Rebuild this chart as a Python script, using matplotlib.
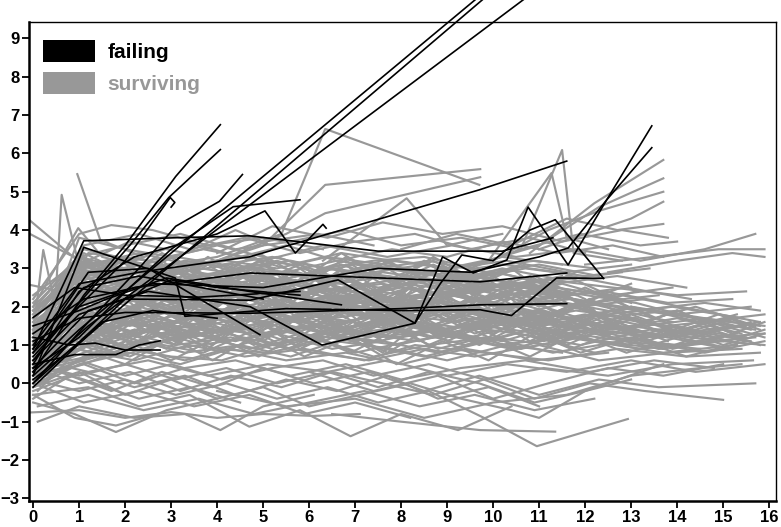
import matplotlib
matplotlib.use("Agg")
from matplotlib import pyplot as plt
from matplotlib.patches import Patch

plt.rcParams['font.family'] = ['Liberation Sans', 'DejaVu Sans']
plt.rcParams['font.weight'] = 'bold'

GREY = '#989898'

# surviving subjects, main band
grey_core = [
    ([0, 1.0, 2.1, 3.2, 4.3, 5.5, 6.8, 8.0, 9.4, 10.9, 12.5], [-0.1, 0.5, 0.8, 0.5, 0.9, 0.6, 0.8, 0.5, 0.9, 0.6, 0.8]),
    ([0.1, 1.1, 2.0, 3.0, 4.1, 5.2, 6.1, 7.3, 8.5, 9.6, 11.0, 12.3, 13.8, 15.4], [0.2, 0.6, 0.9, 0.7, 0.6, 1.0, 0.8, 0.6, 0.9, 0.7, 1.0, 0.6, 0.8, 0.9]),
    ([0, 0.9, 2.2, 3.4, 4.6, 5.9, 7.2, 8.3, 9.8, 11.2, 12.7, 14.2, 15.8], [0.0, 0.9, 0.6, 1.0, 0.7, 0.9, 0.6, 1.0, 0.8, 0.6, 0.9, 0.7, 0.8]),
    ([0, 1.2, 2.3, 3.3, 4.5, 5.6, 6.6, 7.8, 9.0, 10.3, 11.5], [0.4, 0.7, 1.1, 0.8, 1.0, 0.7, 1.1, 0.9, 0.6, 1.0, 0.8]),
    ([0.2, 1.0, 1.9, 3.1, 4.0, 5.1, 6.3, 7.4, 8.6, 9.9, 11.3, 12.8, 14.5], [0.5, 1.0, 0.7, 1.2, 0.9, 0.8, 1.1, 0.7, 1.0, 1.2, 0.8, 1.1, 0.9]),
    ([0, 1.1, 2.0, 3.0, 4.2, 5.3, 6.5, 7.6, 8.8, 10.0, 11.2, 12.2, 13.6, 15.0, 15.9], [0.3, 0.8, 1.2, 0.9, 1.1, 1.3, 0.9, 1.1, 0.8, 1.2, 1.0, 1.3, 0.9, 1.1, 1.0]),
    ([0, 0.8, 1.9, 2.9, 4.0, 5.0, 6.2, 7.0, 8.2, 9.3, 10.6, 11.8, 13.0], [0.6, 1.3, 0.9, 1.1, 1.4, 1.0, 1.2, 0.8, 1.1, 1.3, 0.9, 1.2, 1.0]),
    ([0.1, 1.0, 2.1, 3.1, 4.3, 5.2, 6.4, 7.5, 8.7, 10.1, 11.6, 13.2, 14.7, 15.7], [-0.2, 0.9, 1.3, 1.0, 1.2, 0.9, 1.3, 1.1, 1.4, 1.0, 1.2, 0.9, 1.1, 1.2]),
    ([0, 1.1, 2.4, 3.5, 4.7, 5.8, 7.0, 8.1, 9.2, 10.4, 11.7, 12.9, 14.3, 15.5], [0.9, 1.4, 1.0, 1.3, 0.9, 1.3, 1.1, 1.5, 1.2, 0.9, 1.3, 1.1, 1.4, 1.2]),
    ([0, 1.0, 2.0, 3.2, 4.4, 5.6, 6.7, 7.9, 9.1, 10.2, 11.4, 12.6, 14.0, 15.3], [0.4, 1.2, 1.0, 1.4, 1.1, 1.5, 1.2, 1.0, 1.3, 1.1, 1.5, 1.2, 1.0, 1.3]),
    ([0.1, 0.9, 2.0, 3.0, 4.1, 5.4, 6.3, 7.5, 8.7, 9.7], [1.0, 1.6, 1.2, 1.5, 1.1, 1.3, 1.6, 1.2, 1.4, 1.1]),
    ([0, 1.2, 2.2, 3.3, 4.5, 5.5, 6.8, 8.0, 9.3, 10.5, 11.9, 13.4, 14.8, 15.9], [0.2, 1.0, 1.4, 1.2, 1.5, 1.1, 1.4, 1.2, 1.5, 1.3, 1.0, 1.4, 1.2, 1.3]),
    ([0, 1.0, 2.1, 3.1, 4.2, 5.3, 6.5, 7.4, 8.6, 9.8, 11.0, 12.4, 13.7], [0.7, 1.5, 1.2, 1.6, 1.3, 1.0, 1.4, 1.6, 1.2, 1.5, 1.3, 1.6, 1.2]),
    ([0.2, 1.1, 2.3, 3.4, 4.6, 5.7, 6.9, 8.2, 9.5, 10.8, 12.1, 13.5, 15.2], [1.1, 1.3, 1.6, 1.2, 1.5, 1.7, 1.3, 1.5, 1.2, 1.6, 1.4, 1.2, 1.5]),
    ([0, 0.9, 1.9, 3.0, 4.0, 5.1, 6.2, 7.3, 8.4, 9.6, 10.9, 12.0], [0.5, 1.2, 1.6, 1.4, 1.7, 1.3, 1.5, 1.2, 1.6, 1.4, 1.7, 1.3]),
    ([0, 1.1, 2.2, 3.2, 4.3, 5.5, 6.6, 7.7, 8.9, 10.1, 11.5, 12.9, 14.4, 15.8], [0.8, 1.7, 1.3, 1.6, 1.4, 1.7, 1.2, 1.6, 1.4, 1.7, 1.3, 1.5, 1.3, 1.6]),
    ([0.1, 1.0, 2.0, 3.1, 4.2, 5.2, 6.4, 7.6, 8.8, 10.0, 11.3, 12.6, 13.9], [0.3, 1.4, 1.8, 1.5, 1.3, 1.7, 1.5, 1.8, 1.4, 1.6, 1.8, 1.4, 1.6]),
    ([0, 1.2, 2.4, 3.5, 4.6, 5.8, 7.0, 8.2, 9.4, 10.7, 12.0, 13.3, 14.6, 15.6], [1.3, 1.8, 1.5, 1.7, 1.4, 1.8, 1.6, 1.3, 1.7, 1.5, 1.8, 1.5, 1.7, 1.4]),
    ([0, 1.0, 2.1, 3.2, 4.4, 5.6, 6.7, 7.8, 9.0, 10.3, 11.4], [0.9, 1.9, 1.5, 1.8, 1.6, 1.9, 1.4, 1.7, 1.9, 1.5, 1.8]),
    ([0.1, 1.1, 2.1, 3.0, 4.1, 5.2, 6.3, 7.5, 8.6, 9.8, 11.1, 12.3, 13.8, 15.3], [0.6, 1.5, 1.9, 1.6, 1.8, 1.5, 1.9, 1.7, 1.5, 1.9, 1.6, 1.8, 1.5, 1.7]),
    ([0, 0.9, 2.0, 3.1, 4.3, 5.4, 6.6, 7.9, 9.1, 10.4, 11.8, 13.1], [1.2, 2.0, 1.6, 1.9, 1.7, 2.0, 1.6, 1.8, 2.0, 1.6, 1.9, 1.7]),
    ([0, 1.2, 2.3, 3.3, 4.5, 5.7, 6.8, 8.0, 9.2, 10.5, 11.7, 13.0, 14.5, 15.9], [0.4, 1.6, 2.0, 1.7, 1.9, 1.6, 2.0, 1.8, 1.6, 1.9, 1.7, 2.0, 1.6, 1.8]),
    ([0.1, 1.0, 2.0, 3.2, 4.3, 5.4, 6.5, 7.7, 8.8, 10.0], [1.0, 2.1, 1.7, 2.0, 1.8, 2.1, 1.7, 1.9, 2.1, 1.8]),
    ([0, 1.1, 2.2, 3.4, 4.5, 5.6, 6.8, 7.9, 9.1, 10.2, 11.6, 12.9, 14.1], [0.7, 1.9, 2.2, 1.8, 2.0, 1.7, 2.1, 1.8, 2.0, 1.7, 2.1, 1.8, 1.9]),
    ([0, 1.0, 2.1, 3.1, 4.2, 5.3, 6.4, 7.6, 8.7, 9.9, 11.2, 12.5, 13.9, 15.4], [1.5, 2.2, 1.8, 2.1, 1.9, 2.2, 1.8, 2.0, 2.2, 1.9, 2.1, 1.8, 2.0, 1.7]),
    ([0.2, 1.1, 2.0, 3.0, 4.1, 5.2, 6.2, 7.3, 8.5, 9.6, 10.8, 12.2], [0.2, 1.7, 2.2, 1.9, 2.1, 1.8, 2.2, 1.9, 2.1, 1.8, 2.2, 1.9]),
    ([0, 0.9, 1.9, 3.0, 4.1, 5.2, 6.4, 7.5, 8.7, 10.0, 11.3, 12.7, 14.0, 15.6], [1.1, 2.1, 2.3, 2.0, 2.2, 1.9, 2.3, 2.0, 2.2, 1.9, 2.3, 2.0, 1.8, 2.0]),
    ([0, 1.2, 2.3, 3.4, 4.6, 5.7, 6.9, 8.1, 9.3, 10.6, 11.9, 13.3], [0.5, 2.0, 2.3, 2.0, 2.2, 1.9, 2.3, 2.1, 1.9, 2.3, 2.0, 2.2]),
    ([0.1, 1.0, 2.1, 3.2, 4.3, 5.4, 6.5, 7.7, 8.9, 10.1, 11.4], [1.3, 2.4, 2.0, 2.3, 2.1, 2.4, 2.0, 2.2, 2.4, 2.0, 2.3]),
    ([0, 1.1, 2.2, 3.3, 4.4, 5.5, 6.7, 7.8, 9.0, 10.3, 11.7, 13.1, 14.6, 15.8], [0.9, 1.9, 2.3, 2.1, 2.4, 2.0, 2.3, 2.1, 2.4, 2.0, 2.2, 1.9, 2.1, 1.9]),
    ([0, 1.0, 2.0, 3.1, 4.2, 5.3, 6.4, 7.5, 8.6, 9.7], [1.6, 2.5, 2.1, 2.4, 2.2, 2.5, 2.1, 2.4, 2.2, 2.4]),
    ([0.1, 1.2, 2.4, 3.5, 4.7, 5.8, 7.0, 8.2, 9.5, 10.8, 12.1, 13.6], [0.8, 2.4, 2.1, 2.5, 2.2, 2.4, 2.1, 2.5, 2.2, 2.4, 2.1, 2.3]),
    ([0, 0.9, 2.0, 3.0, 4.1, 5.2, 6.3, 7.4, 8.6, 9.8, 11.0, 12.4, 13.8, 15.2], [1.2, 2.2, 2.5, 2.2, 2.4, 2.1, 2.5, 2.3, 2.1, 2.5, 2.2, 2.4, 2.1, 2.2]),
    ([0, 1.1, 2.1, 3.2, 4.3, 5.5, 6.6, 7.8, 9.0, 10.2, 11.5], [0.3, 2.1, 2.5, 2.3, 2.6, 2.2, 2.5, 2.2, 2.4, 2.6, 2.3]),
    ([0.2, 1.0, 2.1, 3.3, 4.4, 5.6, 6.8, 8.0, 9.2, 10.4, 11.6, 12.9, 14.3], [1.4, 2.6, 2.2, 2.5, 2.3, 2.6, 2.2, 2.5, 2.3, 2.6, 2.3, 2.5, 2.2]),
    ([0, 1.2, 2.3, 3.4, 4.5, 5.7, 6.9, 8.1, 9.3, 10.5, 11.8], [1.0, 2.3, 2.6, 2.3, 2.5, 2.7, 2.3, 2.6, 2.4, 2.6, 2.3]),
    ([0, 1.0, 2.0, 3.1, 4.2, 5.3, 6.4, 7.6, 8.8, 10.0, 11.3, 12.6, 13.9], [1.7, 2.7, 2.4, 2.6, 2.3, 2.7, 2.4, 2.6, 2.3, 2.7, 2.5, 2.3, 2.5]),
    ([0.1, 1.1, 2.2, 3.2, 4.3, 5.4, 6.6, 7.7, 8.9, 10.1], [0.6, 2.4, 2.7, 2.5, 2.7, 2.4, 2.6, 2.8, 2.5, 2.7]),
    ([0, 0.9, 1.9, 3.0, 4.1, 5.2, 6.3, 7.5, 8.7, 9.9, 11.2, 12.6, 14.0, 15.5], [1.1, 2.5, 2.8, 2.5, 2.7, 2.4, 2.8, 2.5, 2.7, 2.4, 2.7, 2.5, 2.3, 2.4]),
    ([0, 1.0, 2.1, 3.3, 4.4, 5.5, 6.7, 7.9, 9.1, 10.4, 11.7, 13.0], [1.9, 2.8, 2.5, 2.8, 2.6, 2.9, 2.5, 2.7, 2.9, 2.6, 2.8, 2.5]),
    ([0.1, 1.2, 2.3, 3.4, 4.6, 5.7, 6.9, 8.0, 9.2, 10.3, 11.5], [0.9, 2.6, 2.9, 2.6, 2.8, 2.6, 2.9, 2.6, 2.8, 2.5, 2.8]),
    ([0, 1.0, 2.0, 3.1, 4.2, 5.4, 6.5, 7.6, 8.8, 10.0, 11.3, 12.7, 14.2], [1.4, 2.9, 2.6, 2.9, 2.7, 2.9, 2.6, 2.9, 2.7, 2.9, 2.6, 2.8, 2.5]),
    ([0, 1.1, 2.2, 3.2, 4.3, 5.4, 6.5, 7.7, 8.9, 10.2, 11.5, 12.8], [0.5, 2.7, 3.0, 2.7, 2.9, 2.7, 3.0, 2.8, 2.6, 3.0, 2.7, 2.9]),
    ([0.1, 1.0, 2.0, 3.0, 4.1, 5.2, 6.3, 7.4, 8.5, 9.7], [2.0, 3.0, 2.7, 3.0, 2.8, 3.1, 2.7, 2.9, 3.1, 2.8]),
    ([0, 1.2, 2.3, 3.5, 4.6, 5.8, 7.0, 8.2, 9.4, 10.7, 12.0, 13.4], [1.2, 2.8, 3.1, 2.8, 3.0, 2.8, 3.1, 2.9, 2.7, 3.0, 2.8, 3.0]),
    ([0, 0.9, 2.0, 3.1, 4.2, 5.3, 6.4, 7.5, 8.6, 9.8, 11.0, 12.3], [1.6, 3.1, 2.8, 3.1, 2.9, 3.2, 2.8, 3.0, 3.2, 2.9, 3.1, 2.8]),
    ([0.1, 1.1, 2.1, 3.2, 4.3, 5.5, 6.6, 7.8, 9.0, 10.2, 11.4], [0.7, 2.9, 3.2, 2.9, 3.1, 2.9, 3.2, 3.0, 2.8, 3.1, 2.9]),
    ([0, 1.0, 2.2, 3.3, 4.4, 5.6, 6.8, 7.9, 9.1, 10.3, 11.6, 13.0], [1.8, 3.2, 2.9, 3.2, 3.0, 3.2, 2.9, 3.2, 3.0, 3.2, 2.9, 3.1]),
    ([0, 1.1, 2.2, 3.1, 4.2, 5.3, 6.4, 7.6, 8.7, 9.9], [1.0, 3.0, 3.3, 3.0, 3.2, 3.0, 3.3, 3.1, 2.9, 3.2]),
    ([0.2, 1.0, 2.0, 3.1, 4.1, 5.2, 6.3, 7.4, 8.5, 9.6, 10.9, 12.2], [2.2, 3.3, 3.0, 3.3, 3.1, 3.3, 3.0, 3.2, 3.3, 3.0, 3.2, 3.0]),
    ([0, 1.2, 2.3, 3.4, 4.5, 5.6, 6.7, 7.8, 9.0, 10.2, 11.5], [1.3, 3.1, 3.4, 3.1, 3.3, 3.1, 3.4, 3.2, 3.0, 3.3, 3.1]),
    ([0, 1.0, 2.2, 3.5, 5.0, 6.6, 8.1, 9.7, 11.2, 12.8, 14.4, 15.9], [0.2, 0.9, 1.4, 1.2, 1.8, 2.2, 2.0, 2.6, 2.3, 2.0, 1.7, 1.5]),
    ([0, 1.1, 2.4, 3.8, 5.1, 6.5, 7.9, 9.3, 10.8, 12.3, 13.7], [1.5, 2.9, 2.6, 2.3, 2.5, 2.0, 1.6, 1.9, 1.4, 1.1, 0.9]),
    ([0.1, 1.0, 2.0, 3.3, 4.8, 6.0, 7.4, 8.6, 10.0, 11.5, 13.1, 14.7, 15.7], [0.0, 0.6, 1.0, 1.5, 1.3, 1.9, 2.3, 2.1, 2.7, 2.4, 2.1, 1.6, 1.4]),
    ([0, 1.2, 2.5, 3.6, 4.9, 6.2, 7.6, 9.0, 10.4, 11.9], [1.0, 2.3, 2.8, 3.2, 2.7, 2.3, 1.8, 1.3, 1.7, 1.2]),
    ([0, 0.9, 2.1, 3.4, 4.7, 6.1, 7.3, 8.5, 9.8, 11.1, 12.4, 13.8, 15.1], [0.6, 1.1, 0.7, 1.4, 2.0, 1.6, 2.3, 2.9, 2.4, 2.0, 1.5, 1.2, 0.9]),
    ([0.1, 1.1, 2.3, 3.4, 4.5, 5.8, 7.1, 8.4, 9.6, 10.9, 12.2], [1.9, 3.4, 2.7, 2.1, 1.6, 1.9, 1.3, 1.1, 1.6, 1.2, 0.8]),
    ([0, 1.0, 2.0, 3.1, 4.3, 5.6, 6.9, 8.3, 9.7, 11.2, 12.8, 14.5, 15.8], [0.4, 1.0, 1.8, 2.5, 2.1, 2.7, 2.2, 1.7, 2.2, 1.8, 2.3, 1.9, 1.6]),
    ([0, 1.2, 2.2, 3.3, 4.4, 5.5, 6.6, 7.8, 9.0, 10.5, 12.0, 13.5, 15.0], [1.3, 2.0, 1.5, 1.0, 1.4, 0.9, 1.3, 1.8, 1.4, 2.1, 1.6, 1.3, 1.1]),
    ([0.1, 1.0, 2.1, 3.2, 4.4, 5.7, 7.0, 8.4, 9.9, 11.3], [0.8, 2.6, 2.2, 1.7, 2.3, 2.9, 2.5, 2.0, 2.6, 2.2]),
    ([0, 1.1, 2.4, 3.7, 5.0, 6.3, 7.7, 9.1, 10.6, 12.2, 13.8, 15.5], [0.1, 0.5, 1.1, 0.8, 1.5, 1.1, 1.7, 1.2, 1.8, 1.4, 1.2, 1.5]),
    ([0, 1.0, 2.0, 3.0, 4.0, 5.1, 6.2, 7.3, 8.5, 9.7, 11.0, 12.4, 13.9], [1.7, 3.0, 3.3, 2.6, 2.2, 2.8, 2.4, 1.9, 2.3, 2.8, 2.4, 2.0, 1.6]),
    ([0.1, 1.2, 2.3, 3.5, 4.8, 6.0, 7.3, 8.6, 9.9, 11.3, 12.7, 14.2, 15.6], [0.5, 1.7, 1.3, 2.1, 1.7, 1.2, 1.6, 2.2, 1.8, 1.3, 1.7, 1.4, 1.1]),
    ([0, 0.9, 1.9, 3.0, 4.2, 5.3, 6.5, 7.6, 8.8, 10.1, 11.4, 12.8], [1.1, 1.9, 2.6, 2.2, 2.9, 3.3, 2.8, 3.2, 2.6, 2.9, 2.5, 2.2]),
    ([0, 1.1, 2.2, 3.3, 4.5, 5.8, 7.2, 8.5, 9.9, 11.4, 12.9, 14.6, 15.9], [0.9, 1.3, 0.9, 0.6, 1.0, 1.5, 1.0, 0.7, 1.1, 1.6, 1.2, 0.8, 1.1]),
    ([0.2, 1.0, 2.0, 3.1, 4.2, 5.4, 6.7, 8.0, 9.3, 10.7], [1.4, 2.8, 3.2, 2.7, 2.3, 2.7, 3.1, 2.6, 2.1, 2.5]),
    ([0, 1.2, 2.4, 3.5, 4.7, 5.9, 7.1, 8.3, 9.6, 11.0, 12.5, 14.0, 15.4], [0.3, 1.2, 1.7, 1.3, 0.9, 1.2, 1.7, 2.1, 1.6, 1.9, 1.4, 1.7, 1.3]),
    ([0, 1.0, 2.1, 3.3, 4.6, 5.9, 7.2, 8.6, 10.0, 11.5, 13.0], [2.0, 3.2, 2.6, 3.0, 2.4, 1.9, 2.3, 2.7, 2.2, 2.6, 2.1]),
    ([0.1, 1.1, 2.1, 3.1, 4.2, 5.3, 6.4, 7.6, 8.8, 10.1, 11.5, 13.0, 14.6, 15.8], [0.7, 1.5, 2.0, 1.6, 2.2, 1.8, 1.4, 1.9, 2.4, 2.0, 1.6, 2.0, 1.7, 1.5]),
    ([0, 0.9, 2.0, 3.2, 4.4, 5.6, 6.8, 8.1, 9.4, 10.8, 12.2, 13.7, 15.3], [1.2, 2.3, 1.8, 1.3, 1.7, 2.3, 1.9, 1.4, 1.0, 1.4, 1.1, 0.8, 1.0]),
]

# surviving subjects with visit-to-visit swings inside the band
grey_swing = [
    ([0, 0.8, 1.7, 2.6, 3.6, 4.5, 5.4, 6.4, 7.3, 8.3, 9.2, 10.2, 11.1, 12.1], [0.9, 2.1, 1.3, 2.4, 1.6, 2.6, 1.5, 2.3, 1.4, 2.5, 1.7, 2.4, 1.5, 2.2]),
    ([0.1, 1.0, 1.9, 2.8, 3.8, 4.7, 5.7, 6.6, 7.6, 8.5, 9.5, 10.5, 11.5, 12.6, 13.7, 14.9], [0.3, 1.2, 0.7, 1.6, 0.9, 1.8, 1.0, 1.5, 0.8, 1.7, 1.1, 1.9, 1.2, 1.6, 0.9, 1.4]),
    ([0, 0.9, 1.8, 2.8, 3.7, 4.7, 5.6, 6.6, 7.5, 8.5, 9.4, 10.4, 11.3], [1.8, 3.0, 2.2, 3.2, 2.4, 3.1, 2.1, 2.9, 2.3, 3.2, 2.5, 3.0, 2.2]),
    ([0, 1.0, 2.0, 2.9, 3.9, 4.8, 5.8, 6.8, 7.7, 8.7, 9.7, 10.7, 11.8, 12.9, 14.0, 15.2], [0.5, 1.5, 2.2, 1.4, 2.3, 1.6, 2.4, 1.7, 2.5, 1.8, 2.3, 1.5, 2.1, 1.4, 1.9, 1.3]),
    ([0.2, 1.1, 2.1, 3.0, 4.0, 4.9, 5.9, 6.8, 7.8, 8.8, 9.8, 10.9, 12.0], [1.2, 2.5, 1.8, 2.8, 2.0, 2.9, 2.2, 3.1, 2.1, 2.7, 1.9, 2.8, 2.2]),
    ([0, 0.9, 1.9, 2.9, 3.8, 4.8, 5.7, 6.7, 7.6, 8.6, 9.6, 10.6, 11.7, 12.8, 13.9, 15.0, 15.9], [0.1, 0.8, 1.4, 0.9, 1.6, 1.0, 1.8, 1.1, 1.7, 1.0, 1.5, 0.9, 1.6, 1.1, 1.5, 1.0, 1.3]),
    ([0, 1.1, 2.0, 3.0, 3.9, 4.9, 5.8, 6.8, 7.8, 8.7, 9.7], [2.3, 3.3, 2.6, 3.3, 2.5, 3.2, 2.4, 3.3, 2.6, 3.1, 2.5]),
    ([0.1, 1.0, 2.0, 3.0, 4.0, 5.0, 6.0, 7.0, 8.0, 9.0, 10.0, 11.0, 12.0, 13.0, 14.1, 15.3], [0.7, 1.9, 1.2, 2.0, 1.3, 2.1, 1.4, 2.2, 1.5, 2.0, 1.3, 1.9, 1.2, 1.8, 1.3, 1.7]),
    ([0, 0.9, 1.8, 2.7, 3.7, 4.6, 5.6, 6.5, 7.5, 8.4, 9.4, 10.4, 11.4, 12.4, 13.5], [1.4, 2.7, 2.0, 2.9, 2.2, 2.8, 1.9, 2.6, 1.8, 2.7, 2.0, 2.6, 1.8, 2.3, 1.7]),
    ([0, 1.0, 2.0, 3.0, 3.9, 4.9, 5.9, 6.9, 7.9, 8.9, 9.9, 10.9, 11.9, 13.0, 14.2, 15.5], [0.2, 0.9, 0.5, 1.2, 0.6, 1.3, 0.7, 1.2, 0.5, 1.1, 0.6, 1.3, 0.8, 1.2, 0.7, 1.1]),
    ([0.1, 1.0, 1.9, 2.9, 3.8, 4.8, 5.8, 6.7, 7.7, 8.7, 9.7, 10.7, 11.8], [1.6, 2.8, 3.2, 2.5, 3.3, 2.6, 3.1, 2.4, 3.2, 2.6, 3.0, 2.3, 2.9]),
    ([0, 1.1, 2.1, 3.1, 4.1, 5.0, 6.0, 7.0, 8.0, 9.0, 10.0, 11.0, 12.1, 13.2, 14.4, 15.7], [1.0, 1.6, 2.3, 1.7, 2.5, 1.8, 2.6, 1.9, 2.4, 1.6, 2.3, 1.7, 2.2, 1.6, 2.0, 1.5]),
    ([0, 0.9, 1.9, 2.8, 3.8, 4.7, 5.7, 6.7, 7.6, 8.6, 9.6, 10.6, 11.6, 12.7, 13.8], [0.6, 1.6, 1.0, 1.9, 1.2, 2.0, 1.3, 1.8, 1.1, 1.9, 1.3, 1.7, 1.0, 1.6, 1.1]),
    ([0.2, 1.1, 2.0, 3.0, 3.9, 4.9, 5.8, 6.8, 7.7, 8.7, 9.6, 10.6], [2.0, 3.1, 2.5, 3.3, 2.7, 3.4, 2.8, 3.2, 2.5, 3.3, 2.7, 3.1]),
    ([0, 1.0, 2.0, 2.9, 3.9, 4.9, 5.8, 6.8, 7.8, 8.8, 9.8, 10.8, 11.8, 12.9, 14.0, 15.1, 15.9], [0.4, 1.3, 1.9, 1.2, 2.0, 1.3, 2.1, 1.4, 2.0, 1.2, 1.8, 1.1, 1.7, 1.0, 1.5, 1.1, 1.4]),
    ([0, 0.9, 1.9, 2.9, 3.9, 4.8, 5.8, 6.8, 7.8, 8.8, 9.8, 10.9, 12.0, 13.1], [1.1, 2.4, 1.8, 2.6, 1.9, 2.7, 2.0, 2.5, 1.8, 2.6, 2.1, 2.7, 2.0, 2.4]),
    ([0.1, 1.1, 2.0, 3.0, 4.0, 4.9, 5.9, 6.9, 7.9, 8.8, 9.8, 10.8, 11.8, 12.9, 14.0, 15.2], [0.0, 0.7, 1.1, 0.6, 1.2, 0.7, 1.3, 0.8, 1.4, 0.9, 1.2, 0.7, 1.3, 0.8, 1.2, 0.9]),
    ([0, 1.0, 1.9, 2.9, 3.8, 4.8, 5.7, 6.7, 7.7, 8.6, 9.6, 10.6, 11.6], [1.9, 2.9, 2.3, 3.1, 2.4, 3.0, 2.2, 2.8, 2.1, 2.9, 2.3, 2.8, 2.1]),
    ([0, 0.9, 1.8, 2.8, 3.8, 4.7, 5.7, 6.6, 7.6, 8.6, 9.5, 10.5, 11.5, 12.6, 13.7, 14.9, 15.8], [0.8, 1.8, 1.3, 2.1, 1.5, 2.2, 1.6, 2.3, 1.5, 2.1, 1.4, 2.0, 1.5, 1.9, 1.3, 1.8, 1.4]),
    ([0.1, 1.0, 2.0, 3.0, 4.0, 5.0, 6.0, 7.0, 8.0, 9.0, 10.0, 11.0, 12.0, 13.1], [1.3, 2.2, 2.9, 2.1, 2.8, 2.0, 2.9, 2.2, 2.7, 1.9, 2.6, 2.0, 2.5, 1.9]),
    ([0, 1.1, 2.1, 3.1, 4.0, 5.0, 6.0, 7.0, 8.0, 9.0, 10.1, 11.2, 12.3, 13.5, 14.7, 15.9], [0.3, 1.1, 1.6, 1.0, 1.7, 1.1, 1.9, 1.2, 1.8, 1.1, 1.7, 1.2, 1.8, 1.2, 1.6, 1.2]),
    ([0, 0.9, 1.9, 2.8, 3.8, 4.8, 5.7, 6.7, 7.7, 8.7, 9.7, 10.7], [2.1, 3.2, 2.7, 3.4, 2.8, 3.3, 2.6, 3.4, 2.7, 3.2, 2.6, 3.1]),
    ([0.2, 1.0, 2.0, 3.0, 3.9, 4.9, 5.9, 6.8, 7.8, 8.8, 9.8, 10.8, 11.9, 13.0, 14.1, 15.3], [0.9, 2.0, 1.5, 2.3, 1.7, 2.4, 1.6, 2.2, 1.5, 2.3, 1.7, 2.2, 1.5, 2.0, 1.4, 1.8]),
    ([0, 1.0, 2.0, 2.9, 3.9, 4.8, 5.8, 6.7, 7.7, 8.7, 9.7, 10.7, 11.7, 12.8, 13.9, 15.0], [0.6, 1.4, 0.9, 1.5, 1.0, 1.7, 0.9, 1.4, 0.8, 1.5, 1.0, 1.6, 0.9, 1.4, 0.9, 1.2]),
    ([0, 0.9, 1.9, 2.9, 3.9, 4.9, 5.8, 6.8, 7.8, 8.8, 9.8, 10.8, 11.9, 13.0], [1.5, 2.6, 2.1, 2.9, 2.3, 3.0, 2.2, 2.8, 2.2, 3.0, 2.4, 2.8, 2.1, 2.6]),
    ([0.1, 1.1, 2.1, 3.1, 4.1, 5.1, 6.1, 7.1, 8.1, 9.1, 10.1, 11.1, 12.2, 13.3, 14.5, 15.8], [0.2, 1.0, 1.7, 1.1, 1.9, 1.2, 2.0, 1.3, 1.9, 1.2, 1.8, 1.1, 1.7, 1.1, 1.5, 1.0]),
    ([0, 1.0, 1.9, 2.9, 3.8, 4.8, 5.8, 6.7, 7.7, 8.7, 9.6, 10.6, 11.6, 12.7], [1.7, 2.7, 3.2, 2.4, 3.1, 2.3, 3.0, 2.2, 3.0, 2.3, 2.9, 2.2, 2.8, 2.2]),
    ([0, 0.9, 1.9, 2.8, 3.8, 4.8, 5.8, 6.7, 7.7, 8.7, 9.7, 10.7, 11.8, 12.9, 14.0, 15.2, 15.9], [0.5, 1.1, 1.7, 1.2, 2.0, 1.3, 2.1, 1.4, 2.2, 1.5, 2.1, 1.4, 2.0, 1.4, 1.9, 1.3, 1.6]),
    ([0.1, 1.0, 2.0, 3.0, 4.0, 5.0, 6.0, 7.0, 8.0, 9.0, 10.0, 11.1, 12.2], [1.0, 2.3, 1.7, 2.5, 1.8, 2.6, 1.9, 2.6, 2.0, 2.7, 2.0, 2.6, 1.9]),
    ([0, 1.1, 2.1, 3.0, 4.0, 5.0, 5.9, 6.9, 7.9, 8.9, 9.9, 10.9, 12.0, 13.1, 14.3, 15.6], [0.8, 1.5, 1.1, 1.8, 1.2, 1.9, 1.3, 2.0, 1.3, 1.8, 1.2, 1.9, 1.3, 1.7, 1.2, 1.6]),
]

# surviving subjects above the band
grey_upper = [
    ([0, 1.0, 1.7, 2.6, 3.8, 5.0, 6.3], [2.2, 3.9, 4.13, 4.0, 3.6, 3.8, 3.5]),
    ([0.1, 1.1, 2.3, 3.4, 4.6, 5.8, 7.0, 8.3, 9.5, 10.8, 12.0], [1.5, 3.6, 3.9, 3.5, 3.8, 3.4, 3.7, 3.9, 3.5, 3.8, 3.4]),
    ([0, 1.0, 2.0, 3.2, 4.4, 5.6, 6.8, 8.0, 9.3, 10.6, 11.9, 13.2, 14.0], [1.0, 3.3, 3.6, 3.9, 3.5, 3.7, 4.0, 3.6, 3.8, 3.5, 3.9, 3.6, 3.7]),
    ([4.0, 5.2, 6.4, 7.6, 8.9, 10.2, 11.5, 12.8, 13.8], [3.4, 4.1, 3.8, 4.2, 3.9, 4.1, 3.7, 4.0, 3.8]),
    ([0, 1.2, 2.5, 3.7, 5.0, 6.3, 7.7, 9.1, 10.5, 11.8, 13.2, 14.6, 15.7], [0.8, 3.4, 3.2, 3.5, 3.2, 3.6, 3.3, 3.6, 3.3, 3.5, 3.2, 3.5, 3.9]),
    ([0, 1.1, 2.2, 3.3, 4.5, 5.5, 6.6, 7.8, 9.0, 10.2, 11.4, 12.6, 13.7], [1.9, 3.5, 3.2, 3.7, 3.3, 3.6, 3.2, 3.5, 3.3, 3.7, 3.4, 3.6, 3.3]),
    ([8.0, 9.2, 10.4, 11.6, 12.7, 13.7], [3.5, 3.9, 3.6, 4.3, 4.0, 4.16]),
    ([0, 1.0, 2.1, 3.3, 4.4, 5.0, 6.2, 7.4], [1.2, 3.1, 3.7, 3.4, 4.0, 3.7, 3.9, 3.6]),
    ([11.0, 12.0, 13.0, 13.7], [3.5, 3.9, 4.3, 4.74]),
    ([10.0, 11.2, 12.3, 13.7], [3.2, 4.0, 4.5, 5.0]),
    ([9.6, 11.0, 12.3, 13.7], [3.1, 3.6, 4.6, 5.35]),
    ([10.8, 12.2, 13.7], [3.4, 4.7, 5.83]),
    ([12.0, 13.5, 14.9, 15.9], [3.1, 3.3, 3.5, 3.5]),
    ([12.5, 14.0, 15.2, 15.9], [2.9, 3.2, 3.4, 3.3]),
    ([0.1, 1.0, 2.0, 3.0, 4.0, 5.0], [0.9, 3.8, 3.5, 3.3, 3.6, 3.3]),
]

# surviving subjects with isolated high values
grey_outliers = [
    ([-0.07, 0.95, 2.0], [4.25, 3.22, 2.8]),
    ([-0.07, 0.8, 1.9], [3.9, 3.35, 2.9]),
    ([0.0, 0.48, 0.62, 1.02, 2.0], [1.0, 2.1, 4.92, 2.96, 2.6]),
    ([0.0, 0.22, 0.5, 1.3], [1.3, 3.48, 1.9, 2.4]),
    ([0.96, 1.46, 2.4], [5.46, 3.74, 3.3]),
    ([0, 0.98, 1.5, 2.5], [2.0, 4.05, 3.3, 3.0]),
    ([0, 1.1, 2.5, 4.0, 5.4, 6.35, 9.7], [1.4, 2.6, 3.0, 3.3, 3.9, 6.64, 5.18]),
    ([2.0, 3.5, 5.0, 6.35, 9.72], [2.5, 3.0, 3.6, 5.18, 5.59]),
    ([1.0, 2.5, 4.0, 5.5, 6.35, 9.72], [2.0, 2.6, 3.2, 3.9, 4.44, 5.38]),
    ([6.3, 8.12, 9.0, 10.2], [3.2, 4.83, 3.6, 3.9]),
    ([9.5, 10.6, 11.5, 11.75, 12.8], [3.0, 3.5, 6.09, 3.4, 3.2]),
    ([9.9, 11.27, 11.6, 12.5], [3.2, 5.49, 3.8, 3.5]),
    ([-0.07, 1.0, 2.1], [2.57, 2.3, 2.6]),
]

# surviving subjects below the band
grey_lower = [
    ([0, 0.9, 1.8, 2.9, 4.0], [-0.5, -0.8, -1.27, -0.7, -0.4]),
    ([0.1, 1.0, 2.2, 3.3, 4.07, 5.0, 6.1], [-1.0, -0.6, -0.9, -0.8, -1.22, -0.6, -0.3]),
    ([-0.07, 1.0, 2.0, 3.0, 4.0, 5.0, 6.1, 7.1], [-0.76, -0.7, -0.9, -0.75, -0.9, -0.8, -0.85, -0.8]),
    ([0, 1.2, 2.3, 3.4, 4.7, 5.8, 6.9, 8.0, 9.24, 10.4], [-0.3, -0.1, -0.6, -0.3, -1.13, -0.7, -1.38, -0.8, -1.22, -0.6]),
    ([0, 1.0, 2.0, 3.1, 4.2, 5.3, 6.4, 7.5, 8.6, 9.8, 10.95, 12.93], [0.1, -0.2, 0.1, -0.3, 0.0, -0.4, -0.1, -0.5, -0.2, -0.9, -1.64, -0.93]),
    ([0, 1.1, 2.2, 3.3, 4.4, 5.5, 6.6, 7.7, 8.8, 9.9, 11.0], [-0.2, 0.3, -0.1, 0.2, -0.3, 0.1, -0.2, 0.2, -0.4, -0.1, -0.6]),
    ([6.5, 8.0, 9.72, 11.35], [-0.8, -1.0, -1.22, -1.26]),
    ([0, 1.0, 2.1, 3.2, 4.3, 5.4, 6.5, 7.6, 8.7, 9.8, 10.9, 12.1, 13.3, 15.0], [0.4, 0.0, 0.3, -0.2, 0.2, -0.1, 0.3, 0.0, -0.3, 0.1, -0.4, 0.0, -0.2, -0.43]),
    ([0, 0.8, 1.7, 2.8, 3.9, 5.0, 6.1, 7.3, 8.5, 9.7, 11.0, 12.3, 13.6, 15.7], [-0.4, 0.2, -0.2, 0.3, -0.1, 0.4, 0.0, 0.3, -0.2, 0.2, -0.3, 0.1, -0.1, 0.0]),
    ([0, 1.1, 2.3, 3.5, 4.7, 5.9, 7.0, 8.2], [0.0, -0.5, -0.2, -0.6, -0.3, -0.8, -0.5, -0.9]),
    ([0, 1.0, 2.0, 3.0, 4.1, 5.2, 6.3, 7.4, 8.6, 9.8, 11.1, 12.5, 13.9, 15.65], [0.3, 0.6, 0.2, 0.5, 0.1, 0.4, 0.6, 0.2, 0.5, 0.1, 0.4, 0.2, 0.5, 0.6]),
    ([0.1, 1.2, 2.4, 3.6, 4.8, 6.0, 7.2, 8.4, 9.6, 10.9, 12.2], [-0.6, -0.3, -0.7, -0.4, -0.8, -0.5, -0.2, -0.6, -0.3, -0.7, -0.4]),
    ([0, 1.0, 2.0, 3.1, 4.2, 5.3, 6.4, 7.5, 8.6, 9.7, 10.9, 12.0, 13.0], [0.5, 0.2, 0.5, 0.1, 0.4, 0.0, 0.3, -0.1, 0.3, 0.0, -0.5, -0.2, 0.1]),
    ([0, 1.1, 2.2, 3.3, 4.4, 5.6, 6.8, 8.0, 9.3, 10.7, 12.1, 13.5, 14.8], [0.2, 0.5, 0.0, 0.4, 0.6, 0.2, 0.5, 0.1, 0.4, 0.6, 0.3, 0.6, 0.4]),
    ([0, 0.9, 1.8, 2.7], [-0.3, -0.9, -1.1, -0.8]),
    ([0.1, 1.2, 2.5, 3.8, 5.1, 6.4, 7.7, 9.0, 10.3, 11.6, 13.0, 14.4, 15.9], [0.6, 0.3, 0.6, 0.2, 0.5, 0.3, 0.6, 0.2, 0.5, 0.3, 0.6, 0.3, 0.5]),
    ([0, 1.0, 2.0, 3.0, 4.0, 5.0, 6.0, 7.1, 8.2, 9.3, 10.4, 11.0, 12.0, 13.7], [-0.1, 0.3, -0.3, 0.1, -0.4, -0.1, -0.6, -0.3, 0.0, -0.4, -0.7, -0.9, -0.2, 0.5]),
    ([4.0, 5.5, 7.0, 8.5, 10.0, 11.6, 13.0, 14.5, 15.4], [-0.2, -0.6, -0.4, -0.9, -0.5, -0.3, 0.2, 0.4, 0.5]),
    ([0, 1.1, 2.3, 3.4, 4.5], [0.5, 0.1, -0.4, -0.1, -0.5]),
    ([6.0, 7.4, 8.8, 10.0, 11.2, 12.5, 13.7, 15.0], [0.3, -0.2, 0.2, -0.4, 0.0, 0.4, 0.2, 0.5]),
]

# failing subjects
black_lines = [
    ([0, 1.1, 2.0, 3.1, 4.07], [0.3, 2.3, 3.6, 5.4, 6.75]),
    ([0, 1.0, 2.1, 2.95, 4.07], [0.6, 2.1, 3.6, 4.85, 6.1]),
    ([0, 1.2, 2.3, 3.1, 4.05, 4.55], [0.0, 1.6, 3.0, 4.1, 4.75, 5.45]),
    ([0, 0.9, 2.0, 2.98, 3.08, 3.0], [0.8, 1.9, 3.2, 4.85, 4.72, 4.6]),
    ([0, 1.0, 2.1, 3.0, 4.35, 5.8], [0.4, 1.2, 2.5, 3.5, 4.61, 4.79]),
    ([0, 1.0, 2.3, 4.7, 9.7, 11.6], [1.0, 2.6, 2.9, 3.3, 5.05, 5.8]),
    ([0, 1.0, 2.2, 4.0, 5.04, 5.7, 6.3, 6.37], [0.5, 2.4, 3.3, 3.9, 4.5, 3.4, 4.15, 4.05]),
    ([0, 1.1, 3.1, 4.7, 7.5, 10.2, 11.3], [0.9, 3.72, 3.8, 3.85, 3.45, 3.45, 3.8]),
    ([0, 1.0, 2.0, 4.72, 6.63, 8.3, 8.9, 9.57, 10.3, 10.76, 11.63, 12.47, 13.45], [0.6, 1.8, 2.2, 2.17, 2.7, 1.57, 3.3, 2.88, 3.22, 4.6, 3.09, 4.79, 6.72]),
    ([0, 1.2, 2.5, 4.72, 6.28, 8.3, 8.85, 9.32, 10.0, 10.8, 11.35, 12.4], [0.4, 1.9, 2.4, 2.0, 1.0, 1.57, 2.6, 3.35, 3.2, 4.0, 4.27, 2.74]),
    ([0, 1.0, 2.0, 4.72, 8.0, 9.72, 11.6], [1.1, 1.7, 1.85, 1.83, 1.95, 2.05, 2.08]),
    ([0, 1.0, 2.2, 4.72, 9.72, 11.6], [0.7, 2.0, 2.5, 2.88, 2.65, 2.88]),
    ([0, 1.2, 2.5, 4.93], [0.8, 2.9, 3.0, 1.27]),
    ([0, 0.9, 1.8, 2.3, 2.76], [0.5, 0.75, 0.75, 1.0, 1.11]),
    ([0, 0.8, 1.35, 2.0, 2.76], [1.2, 1.0, 1.05, 0.87, 0.87]),
    ([0, 1.1, 3.09, 3.3, 5.5, 8.0, 9.72, 10.4, 11.38, 12.4], [0.2, 3.55, 2.75, 1.75, 1.95, 1.9, 1.92, 1.77, 2.75, 2.74]),
    ([0, 1.1, 2.6, 5.0, 7.5, 9.5, 11.0, 11.63, 12.47, 13.45], [1.3, 2.2, 2.6, 2.5, 3.0, 2.9, 3.3, 3.53, 4.79, 6.15]),
    ([0, 0.9, 2.0, 3.6, 5.8], [1.72, 2.5, 2.3, 2.25, 2.4]),
    ([0, 1.2, 2.0, 3.0, 4.0, 5.8], [0.0, 1.3, 2.2, 2.7, 2.5, 2.3]),
    ([0, 1.1, 2.3, 3.2, 5.0], [0.9, 2.5, 2.8, 2.6, 2.2]),
    ([0, 1.0, 1.6, 2.9, 4.7, 6.7], [1.5, 1.9, 2.2, 2.75, 2.4, 2.05]),
    ([0, 0.7, 1.5, 2.6, 4.0], [-0.1, 0.7, 1.6, 1.9, 1.7]),
]

# failing subjects whose values run off the top of the scale
black_steep = [
    ([0, 1.0, 10.0], [0.3, 1.4, 10.4]),
    ([0, 1.1, 10.1], [0.1, 1.15, 10.35]),
    ([0, 1.2, 11.2], [0.2, 1.5, 10.5]),
]

fig = plt.figure(figsize=(7.81, 5.27), dpi=100)
ax = fig.add_axes([29 / 781, 26 / 527, 747 / 781, 479 / 527])

for group in (grey_lower, grey_core, grey_swing, grey_upper, grey_outliers):
    for xs, ys in group:
        ax.plot(xs, ys, color=GREY, lw=1.55, zorder=2)

for xs, ys in black_lines:
    ax.plot(xs, ys, color='black', lw=1.2, zorder=3)
for xs, ys in black_steep:
    ax.plot(xs, ys, color='black', lw=1.2, zorder=3, clip_on=False)

ax.set_xlim(-0.09, 16.15)
ax.set_ylim(-3.07, 9.43)
ax.set_xticks(range(0, 17))
ax.set_yticks(range(-3, 10))

for side in ('left', 'bottom'):
    ax.spines[side].set_linewidth(1.8)
for side in ('top', 'right'):
    ax.spines[side].set_linewidth(1.0)
ax.tick_params(direction='out', length=5, width=1.3, labelsize=12)
ax.tick_params(axis='y', pad=2)
ax.tick_params(axis='x', pad=1.5)
for lab in ax.get_xticklabels() + ax.get_yticklabels():
    lab.set_fontweight('bold')

handles = [Patch(facecolor='black', edgecolor='none'),
           Patch(facecolor=GREY, edgecolor='none')]
ax.legend(handles, ['failing', 'surviving'], loc='upper left',
          bbox_to_anchor=(0.019, 0.962), borderaxespad=0, borderpad=0,
          frameon=False, handlelength=2.5, handleheight=1.2,
          handletextpad=0.6, labelspacing=0.5,
          labelcolor=['black', GREY],
          prop={'size': 15, 'weight': 'bold'})

fig.savefig('out.png', dpi=100)
